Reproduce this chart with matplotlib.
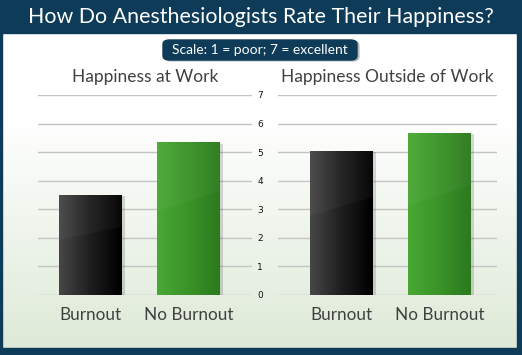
import numpy as np
import matplotlib.pyplot as plt
from matplotlib.patches import Rectangle, FancyBboxPatch, Polygon
from matplotlib.colors import LinearSegmentedColormap

# values (scale 1-7)
panels = ["Happiness at Work", "Happiness Outside of Work"]
categories = ["Burnout", "No Burnout"]
work_scores = [3.5, 5.34]
outside_scores = [5.04, 5.67]
yticks = list(range(0, 8))

navy = '#0d3b58'
text_gray = '#404040'
plt.rcParams['font.family'] = ['Lato', 'DejaVu Sans']

fig = plt.figure(figsize=(5.22, 3.55), dpi=100)

# background: white fading into pale green
bg = fig.add_axes([0, 0, 1, 1], zorder=-10)
grad = np.linspace(0, 1, 256).reshape(-1, 1)
bg_cmap = LinearSegmentedColormap.from_list('bg', ['#dde9d6', '#eef4eb', '#ffffff', '#ffffff'])
bg.imshow(grad, cmap=bg_cmap, aspect='auto', extent=[0, 1, 0, 1], origin='lower')
bg.set_xlim(0, 1)
bg.set_ylim(0, 1)
bg.axis('off')

# frame: title band, side borders, bottom band
for x, y, w, h in [(0, 322/355, 1, 33/355), (0, 0, 1, 7/355), (0, 0, 2/522, 1), (517/522, 0, 5/522, 1)]:
    bg.add_patch(Rectangle((x, y), w, h, color=navy, transform=bg.transAxes, zorder=2))

fig.text(0.5, 338/355, "How Do Anesthesiologists Rate Their Happiness?", color='white',
         fontsize=15.4, ha='center', va='center')

# scale box with shadow
bg.add_patch(FancyBboxPatch((165/522, 294/355), 194/522, 20/355,
                            boxstyle="round,pad=0,rounding_size=0.012",
                            color='#9aa3a8', alpha=0.6, transform=bg.transAxes, zorder=2))
bg.add_patch(FancyBboxPatch((163/522, 295/355), 194/522, 20/355,
                            boxstyle="round,pad=0,rounding_size=0.012",
                            color=navy, transform=bg.transAxes, zorder=3))
fig.text(260/522, 305/355, "Scale: 1 = poor; 7 = excellent", color='white',
         fontsize=10, ha='center', va='center')

black_cmap = LinearSegmentedColormap.from_list('blk', ['#474747', '#1e1e1e', '#000000'])
green_cmap = LinearSegmentedColormap.from_list('grn', ['#4aa834', '#3a9328', '#2c7a1e'])
cmaps = [black_cmap, green_cmap]

axes_boxes = [
    ([38/522, 60/355, 214/522, 200/355], (-0.536, 1.648)),
    ([278/522, 60/355, 219/522, 200/355], (-0.646, 1.587)),
]
data = [work_scores, outside_scores]

for i, ((box, xlim), title, scores) in enumerate(zip(axes_boxes, panels, data)):
    ax = fig.add_axes(box)
    ax.set_facecolor('none')
    x = np.arange(len(categories))
    bars = ax.bar(x, scores, width=0.64, color='none', zorder=3)
    for j, b in enumerate(bars):
        bx, bw, bh = b.get_x(), b.get_width(), b.get_height()
        # soft drop shadow
        ax.add_patch(Rectangle((bx + 0.03, -0.05), bw, bh, color='#000000', alpha=0.15, zorder=2, lw=0))
        im = ax.imshow(np.linspace(0, 1, 64).reshape(1, -1), cmap=cmaps[j], aspect='auto',
                       extent=[bx, bx + bw, 0, bh], zorder=3)
        im.set_clip_path(b)
        # faint diagonal gloss on the upper part
        gloss = Polygon([(bx, bh * 0.55), (bx + bw, bh * 0.68), (bx + bw, bh), (bx, bh)],
                        closed=True, color='white', alpha=0.035, zorder=4, lw=0)
        ax.add_patch(gloss)
    ax.set_xlim(*xlim)
    ax.set_ylim(0, 7)
    ax.set_yticks(yticks)
    ax.yaxis.grid(True, color='#c4c4c4', lw=1)
    ax.set_axisbelow(True)
    ax.set_xticks(x)
    ax.set_xticklabels(categories, fontsize=12.3, color=text_gray)
    ax.tick_params(axis='x', length=0, pad=9)
    if i == 1:
        ax.tick_params(axis='y', length=0, pad=11, labelsize=6.5, labelcolor='#111111')
        for lbl in ax.get_yticklabels():
            lbl.set_fontfamily('DejaVu Sans')
    else:
        ax.tick_params(axis='y', length=0, labelleft=False)
    for s in ax.spines.values():
        s.set_visible(False)
    ax.text(0.5, 1.09, title, transform=ax.transAxes, ha='center', va='center',
            fontsize=12.5, color=text_gray)

fig.savefig('out.png', dpi=100)
